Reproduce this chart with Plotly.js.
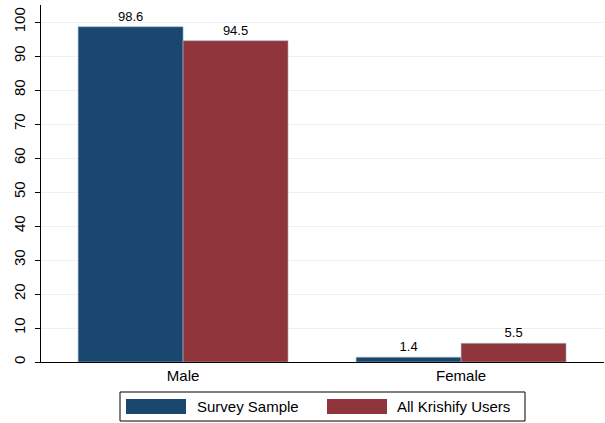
<!DOCTYPE html>
<html><head><meta charset="utf-8">
<script src="https://cdn.plot.ly/plotly-3.0.1.min.js"></script>
<style>body{margin:0;background:#fff}#c{width:605px;height:423px}</style>
</head><body><div id="c"></div>
<script>
const categories = ["Male", "Female"];
const seriesNames = ["Survey Sample", "All Krishify Users"];
const surveySample = [98.6, 1.4];
const allUsers = [94.5, 5.5];
const yTicks = [0,10,20,30,40,50,60,70,80,90,100];
const colors = ["#1a476f", "#90353b"];

const L = 41, R = 604, T = 5, B = 362;
const px = v => (v - L) / (R - L);
const py = v => (B - v) / (B - T);

const mk = (y, i) => ({
  type: 'bar', x: categories, y: y, name: seriesNames[i],
  marker: {color: colors[i], line: {width: 0.6, color: '#9fb6c8'}},
  text: y.map(v => v.toFixed(1)), textposition: 'outside',
  textfont: {family: 'Liberation Sans, Arial', size: 13, color: '#000'},
  cliponaxis: false, showlegend: false
});

const shapes = [
  {type:'rect', xref:'paper', yref:'paper', x0:px(120), x1:px(525), y0:py(421), y1:py(392), line:{color:'#000', width:1}, fillcolor:'#fff'},
  {type:'rect', xref:'paper', yref:'paper', x0:px(126), x1:px(186), y0:py(414), y1:py(399), line:{width:0}, fillcolor:colors[0]},
  {type:'rect', xref:'paper', yref:'paper', x0:px(327), x1:px(387), y0:py(414), y1:py(399), line:{width:0}, fillcolor:colors[1]}
];
const annotations = [
  {xref:'paper', yref:'paper', x:px(195), y:py(406.5), xanchor:'left', yanchor:'middle', showarrow:false, text:seriesNames[0], font:{family:'Liberation Sans, Arial', size:15, color:'#000'}},
  {xref:'paper', yref:'paper', x:px(395), y:py(406.5), xanchor:'left', yanchor:'middle', showarrow:false, text:seriesNames[1], font:{family:'Liberation Sans, Arial', size:15, color:'#000'}}
];

Plotly.newPlot('c', [mk(surveySample,0), mk(allUsers,1)], {
  width: 605, height: 423,
  margin: {l: L, r: 605 - R, t: T, b: 423 - B},
  paper_bgcolor: '#fff', plot_bgcolor: '#fff',
  barmode: 'group', bargap: 0.245, bargroupgap: 0,
  font: {family: 'Liberation Sans, Arial', color: '#000'},
  xaxis: {type: 'category', range: [-0.511, 1.514], showline: true, linecolor: '#000', linewidth: 1.3,
          ticks: '', showgrid: false, tickfont: {size: 15}, fixedrange: true},
  yaxis: {range: [0, 105], tickvals: yTicks, ticktext: yTicks.map(String), tickangle: -90,
          ticks: 'outside', ticklen: 5, tickcolor: '#000', showline: true, linecolor: '#000', linewidth: 1.3,
          ticklabelstandoff: 4,
          showgrid: true, gridcolor: '#eaf2f3', gridwidth: 1, zeroline: false, tickfont: {size: 15}},
  shapes: shapes, annotations: annotations, showlegend: false
}, {displayModeBar: false, staticPlot: true});
</script></body></html>
